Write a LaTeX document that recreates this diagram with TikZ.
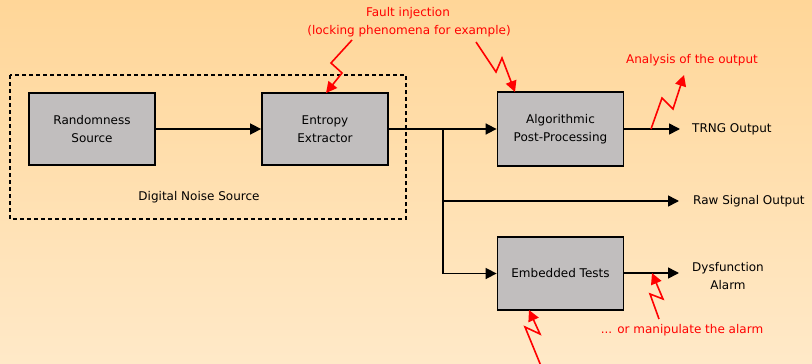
\documentclass[tikz,border=0pt]{standalone}
\usepackage{fontspec}
\setmainfont{DejaVu Sans}
\usetikzlibrary{arrows.meta}
\definecolor{bgtop}{RGB}{255,214,152}
\definecolor{bgbot}{RGB}{255,233,200}
\definecolor{boxfill}{RGB}{193,190,190}
\definecolor{zapred}{RGB}{255,0,0}
\tikzset{
  blockbox/.style={draw=black, line width=1.8pt, fill=boxfill, minimum width=126pt,
    minimum height=72pt, align=center, inner sep=0pt,
    font=\fontsize{12}{18}\selectfont},
  label/.style={inner sep=0pt, font=\fontsize{12}{18}\selectfont, align=center},
  redlabel/.style={label, text=zapred},
  flow/.style={draw=black, line width=1.6pt, -{Triangle[length=11pt,width=11pt]}},
  wire/.style={draw=black, line width=1.6pt},
  zap/.style={draw=zapred, line width=1.6pt, line join=miter, -{Triangle[length=11pt,width=11pt]}},
  groupbox/.style={draw=black, line width=1.8pt, dash pattern=on 4pt off 3pt}
}
\begin{document}
\begin{tikzpicture}[x=1pt,y=-1pt]
% background
\shade[top color=bgtop, bottom color=bgbot] (0,0) rectangle (812,364);
\useasboundingbox (0,0) rectangle (812,364);

% digital noise source group
\draw[groupbox] (10,75) rectangle (406,219);
\node[label] (dns) at (199,197) {Digital Noise Source};

% blocks
\node[blockbox] (rnd) at (92,129) {Randomness\\Source};
\node[blockbox] (ent) at (325,129) {Entropy\\Extractor};
\node[blockbox, minimum height=74pt] (alg) at (560.5,129) {Algorithmic\\Post-Processing};
\node[blockbox, minimum height=73pt] (emb) at (560.5,273.5) {Embedded Tests};

% output labels
\node[label, anchor=west] (trng) at (692,129) {TRNG Output};
\node[label, anchor=west] (raw) at (693,201) {Raw Signal Output};
\node[label] (alarm) at (728,276) {Dysfunction\\Alarm};

% signal path
\coordinate (split) at (443,129);
\coordinate (rawend) at (679,201);
\coordinate (trngend) at (680,129);
\coordinate (alarmend) at (679,273);
\draw[flow] (rnd.east) -- (ent.west);
\draw[wire] (ent.east) -- (split);
\draw[flow] (split) -- (alg.west);
\draw[flow] (split) |- (rawend);
\draw[flow] (split) |- (emb.west);
\draw[flow] (alg.east |- trngend) -- (trngend);
\draw[flow] (emb.east |- alarmend) -- (alarmend);

% red annotations
\node[redlabel] (fault) at (408,13) {Fault injection};
\node[redlabel] (lock) at (409,31) {(locking phenomena for example)};
\node[redlabel] (anal) at (692,60) {Analysis of the output};
\node[redlabel] (manip) at (682,330) {... or manipulate the alarm};

% lightning arrows
\coordinate (z1a) at (352,40);  \coordinate (z1b) at (331,63);  \coordinate (z1c) at (342,73);
\draw[zap] (z1a) -- (z1b) -- (z1c) -- (326,93);
\coordinate (z2a) at (476,42);  \coordinate (z2b) at (496,72);  \coordinate (z2c) at (502,58);
\draw[zap] (z2a) -- (z2b) -- (z2c) -- (515,92);
\coordinate (z3a) at (651,129); \coordinate (z3b) at (662,98);  \coordinate (z3c) at (673,109);
\draw[zap] (z3a) -- (z3b) -- (z3c) -- (684,75);
\coordinate (z4a) at (659,319); \coordinate (z4b) at (650,294); \coordinate (z4c) at (663,299);
\draw[zap] (z4a) -- (z4b) -- (z4c) -- (652,273);
\coordinate (z5a) at (541,366); \coordinate (z5b) at (525,327); \coordinate (z5c) at (540,334);
\draw[zap] (z5a) -- (z5b) -- (z5c) -- (529,310);
\end{tikzpicture}
\end{document}
